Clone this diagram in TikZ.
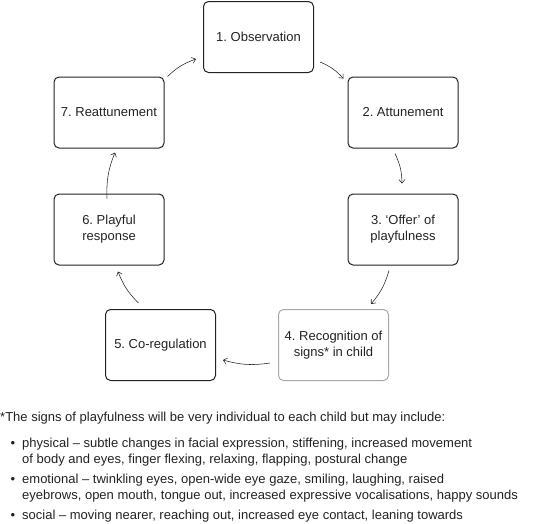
\documentclass[tikz,border=0pt]{standalone}
\usepackage{fontspec}
\setmainfont{Liberation Sans}
\usetikzlibrary{arrows.meta}
\definecolor{ink}{HTML}{222222}
\definecolor{graybox}{HTML}{A8A8A8}
\frenchspacing
\begin{document}
\begin{tikzpicture}[x=1pt,y=1pt,
  stage/.style={draw=ink, line width=1pt, rounded corners=5pt, minimum width=110pt, minimum height=71pt, align=center, text=ink, font=\fontsize{13}{16}\selectfont, inner sep=0pt},
  flow/.style={draw=ink, line width=0.55pt, -{Straight Barb[length=3.5pt,width=6pt]}, bend left=12},
  note/.style={anchor=base west, inner sep=0pt, text=ink, font=\fontsize{13}{16}\selectfont, align=left},
  dot/.style={anchor=base, inner sep=0pt, text=ink, font=\fontsize{13}{16}\selectfont}]
\useasboundingbox (0,0) rectangle (557,-523);
\node[stage] (b1) at (258.5,-37) {1. Observation};
\node[stage] (b2) at (403,-112.5) {2. Attunement};
\node[stage] (b3) at (403,-229.5) {3. ‘Offer’ of\\playfulness};
\node[stage, draw=graybox] (b4) at (333.5,-345) {4. Recognition of\\signs* in child};
\node[stage] (b5) at (160.5,-345) {5. Co-regulation};
\node[stage] (b6) at (109,-229.5) {6. Playful\\response};
\node[stage] (b7) at (109,-112.5) {7. Reattunement};
\draw[flow] ([xshift=3pt]b7.north east) to ([shift={(-7pt,-22pt)}]b1.west);
\draw[flow] ([shift={(6pt,-25pt)}]b1.east) to ([shift={(-4pt,-2pt)}]b2.north west);
\draw[flow] ([shift={(-8pt,-5pt)}]b2.south) to ([shift={(-1pt,10pt)}]b3.north);
\draw[flow] ([shift={(-14pt,-5pt)}]b3.south) to ([shift={(-18pt,5pt)}]b4.north east);
\draw[flow] ([shift={(-8pt,-18pt)}]b4.west) to ([shift={(7pt,-15pt)}]b5.east);
\draw[flow] ([shift={(-22pt,6pt)}]b5.north) to ([shift={(9pt,-6pt)}]b6.south);
\draw[flow] ([shift={(-2pt,-5pt)}]b6.north) to ([shift={(6pt,-4pt)}]b7.south);
\node[note] (fn) at (0,-421) {*The signs of playfulness will be very individual to each child but may include:};
\node[dot] (d1) at (13,-447) {•};
\node[note] (t1) at (22,-463) {physical – subtle changes in facial expression, stiffening, increased movement\\of body and eyes, finger flexing, relaxing, flapping, postural change};
\node[dot] (d2) at (13,-483) {•};
\node[note] (t2) at (22,-499) {emotional – twinkling eyes, open-wide eye gaze, smiling, laughing, raised\\eyebrows, open mouth, tongue out, increased expressive vocalisations, happy sounds};
\node[dot] (d3) at (13,-519) {•};
\node[note] (t3) at (22,-519) {social – moving nearer, reaching out, increased eye contact, leaning towards};
\end{tikzpicture}
\end{document}
